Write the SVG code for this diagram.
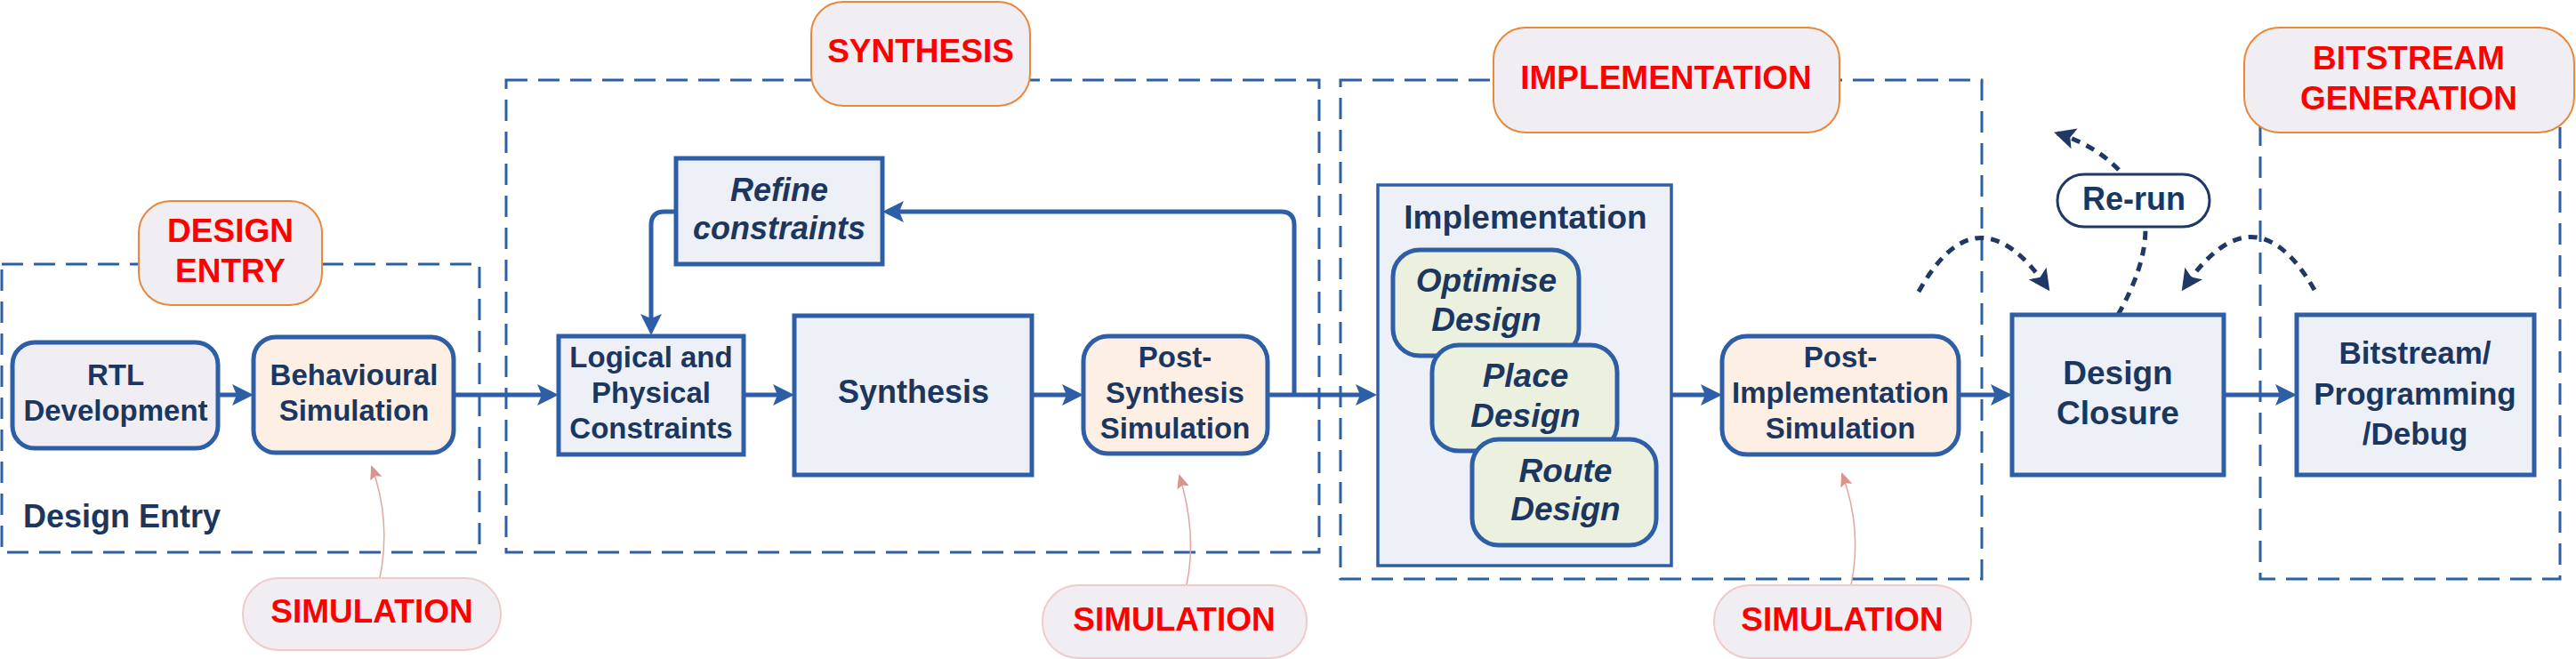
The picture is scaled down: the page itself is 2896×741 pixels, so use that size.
<svg xmlns="http://www.w3.org/2000/svg" width="2896" height="741" viewBox="0 0 2896 741">
<defs>
<style>
.dash{fill:none;stroke:#2E5FA6;stroke-width:3;stroke-dasharray:24 12}
.lbl{fill:#F0EEF3;stroke:#E8883A;stroke-width:2}
.sim{fill:#F0EEF3;stroke:#F2CACA;stroke-width:2}
.red{font-family:"Liberation Sans",Arial,sans-serif;font-weight:bold;font-size:37px;fill:#FF0000;text-anchor:middle}
.box{stroke:#2E5FA6;stroke-width:5}
.lav{fill:#F0EEF3}
.pale{fill:#EDF1F7}
.peach{fill:#FDEFE4}
.green{fill:#EBF0DF}
.t{font-family:"Liberation Sans",Arial,sans-serif;font-weight:bold;font-size:33px;fill:#1B365F;text-anchor:middle}
.t36{font-size:36px}
.t37{font-size:37px}
.it{font-style:italic}
.conn{fill:none;stroke:#2E5FA6;stroke-width:5}
.pink{fill:none;stroke:#E3A59F;stroke-width:1.5}
.dot{fill:none;stroke:#1F3864;stroke-width:5;stroke-dasharray:10 8}
</style>
<marker id="ab" viewBox="0 0 24 24" refX="14" refY="12" markerWidth="24" markerHeight="24" markerUnits="userSpaceOnUse" orient="auto">
<path d="M0,0 L24,12 L0,24 L5,12 z" fill="#2E5FA6"/>
</marker>
<marker id="ap" viewBox="0 0 16 14" refX="14" refY="7" markerWidth="16" markerHeight="14" markerUnits="userSpaceOnUse" orient="auto">
<path d="M0,0 L16,7 L0,14 L3,7 z" fill="#D9948E"/>
</marker>
<marker id="an" viewBox="0 0 24 24" refX="20" refY="12" markerWidth="24" markerHeight="24" markerUnits="userSpaceOnUse" orient="auto">
<path d="M0,0 L24,12 L0,24 L5,12 z" fill="#1F3864"/>
</marker>
</defs>
<rect width="2896" height="741" fill="#FFFFFF"/>

<g id="stages">
<rect class="dash" x="2" y="297" width="537" height="324"/>
<rect class="dash" x="569" y="90" width="914" height="531"/>
<rect class="dash" x="1507" y="90" width="721" height="561"/>
<rect class="dash" x="2541" y="120" width="337" height="531"/>
</g>

<g id="connectors">
<path class="conn" d="M245,444 H275" marker-end="url(#ab)"/>
<path class="conn" d="M510,444 H618" marker-end="url(#ab)"/>
<path class="conn" d="M836,444 H883" marker-end="url(#ab)"/>
<path class="conn" d="M1160,444 H1208" marker-end="url(#ab)"/>
<path class="conn" d="M1425,444 H1538" marker-end="url(#ab)"/>
<path class="conn" d="M1455,444 V253 Q1455,238 1440,238 H1002" marker-end="url(#ab)"/>
<path class="conn" d="M760,238 H747 Q732,238 732,253 V367" marker-end="url(#ab)"/>
<path class="conn" d="M1879,444 H1926" marker-end="url(#ab)"/>
<path class="conn" d="M2202,444 H2252" marker-end="url(#ab)"/>
<path class="conn" d="M2500,444 H2572" marker-end="url(#ab)"/>
<path class="pink" d="M427,650 Q440,585 418,525" marker-end="url(#ap)"/>
<path class="pink" d="M1334,658 Q1346,600 1326,535" marker-end="url(#ap)"/>
<path class="pink" d="M2081,658 Q2094,595 2071,533" marker-end="url(#ap)"/>
<path class="dot" d="M2157,328 Q2223,209 2302,324" marker-end="url(#an)"/>
<path class="dot" d="M2602,326 Q2534,208 2455,324" marker-end="url(#an)"/>
<path class="dot" d="M2381,354 Q2412,300 2412,257"/>
<path class="dot" d="M2382,191 Q2355,163 2313,150" marker-end="url(#an)"/>
</g>

<g id="label-design-entry">
<rect class="lbl" x="156" y="226" width="206" height="117" rx="36"/>
<text class="red" x="259" y="272">DESIGN</text>
<text class="red" x="259" y="317">ENTRY</text>
</g>
<g id="label-synthesis">
<rect class="lbl" x="912" y="2" width="246" height="117" rx="36"/>
<text class="red" x="1035" y="70">SYNTHESIS</text>
</g>
<g id="label-implementation">
<rect class="lbl" x="1679" y="31" width="389" height="118" rx="36"/>
<text class="red" x="1873" y="100">IMPLEMENTATION</text>
</g>
<g id="label-bitstream">
<rect class="lbl" x="2523" y="31" width="371" height="118" rx="40"/>
<text class="red" x="2708" y="78">BITSTREAM</text>
<text class="red" x="2708" y="123">GENERATION</text>
</g>

<g id="design-entry-title">
<text class="t t36" x="26" y="593" style="text-anchor:start">Design Entry</text>
</g>

<g id="rtl">
<rect class="box lav" x="14" y="385" width="231" height="119" rx="25"/>
<text class="t" x="130" y="433">RTL</text>
<text class="t" x="130" y="473">Development</text>
</g>
<g id="behavioural">
<rect class="box peach" x="285" y="379" width="225" height="130" rx="25"/>
<text class="t" x="398" y="433">Behavioural</text>
<text class="t" x="398" y="473">Simulation</text>
</g>
<g id="refine">
<rect class="box pale" x="760" y="178" width="232" height="119"/>
<text class="t t36 it" x="876" y="226">Refine</text>
<text class="t t36 it" x="876" y="269">constraints</text>
</g>
<g id="logical">
<rect class="box pale" x="628" y="378" width="208" height="133"/>
<text class="t" x="732" y="413">Logical and</text>
<text class="t" x="732" y="453">Physical</text>
<text class="t" x="732" y="493">Constraints</text>
</g>
<g id="synthesis">
<rect class="box pale" x="893" y="355" width="267" height="179"/>
<text class="t t36" x="1027" y="453">Synthesis</text>
</g>
<g id="post-synthesis">
<rect class="box peach" x="1218" y="378" width="207" height="132" rx="28"/>
<text class="t" x="1321" y="413">Post-</text>
<text class="t" x="1321" y="453">Synthesis</text>
<text class="t" x="1321" y="493">Simulation</text>
</g>
<g id="implementation">
<rect class="pale" x="1549" y="208" width="330" height="428" stroke="#2E5FA6" stroke-width="3.5"/>
<text class="t t37" x="1715" y="257">Implementation</text>
</g>
<g id="optimise">
<rect class="box green" x="1566" y="281" width="209" height="119" rx="30"/>
<text class="t t37 it" x="1671" y="328">Optimise</text>
<text class="t t37 it" x="1671" y="372">Design</text>
</g>
<g id="place">
<rect class="box green" x="1610" y="388" width="208" height="119" rx="30"/>
<text class="t t37 it" x="1715" y="435">Place</text>
<text class="t t37 it" x="1715" y="480">Design</text>
</g>
<g id="route">
<rect class="box green" x="1655" y="494" width="207" height="119" rx="30"/>
<text class="t t37 it" x="1760" y="542">Route</text>
<text class="t t37 it" x="1760" y="585">Design</text>
</g>
<g id="post-implementation">
<rect class="box peach" x="1936" y="378" width="266" height="133" rx="28"/>
<text class="t" x="2069" y="413">Post-</text>
<text class="t" x="2069" y="453">Implementation</text>
<text class="t" x="2069" y="493">Simulation</text>
</g>
<g id="design-closure">
<rect class="box pale" x="2262" y="354" width="238" height="180"/>
<text class="t t37" x="2381" y="432">Design</text>
<text class="t t37" x="2381" y="477">Closure</text>
</g>
<g id="bitstream">
<rect class="box pale" x="2582" y="354" width="267" height="180"/>
<text class="t" x="2715" y="409" style="font-size:35px">Bitstream/</text>
<text class="t" x="2715" y="455" style="font-size:35px">Programming</text>
<text class="t" x="2715" y="500" style="font-size:35px">/Debug</text>
</g>
<g id="rerun">
<rect x="2313" y="196" width="171" height="59" rx="30" fill="#FFFFFF" stroke="#1F3864" stroke-width="3"/>
<text class="t t36" x="2399" y="236">Re-run</text>
</g>
<g id="sim1">
<rect class="sim" x="273" y="650" width="290" height="81" rx="40"/>
<text class="red" x="418" y="700">SIMULATION</text>
</g>
<g id="sim2">
<rect class="sim" x="1172" y="658" width="297" height="82" rx="40"/>
<text class="red" x="1320" y="709">SIMULATION</text>
</g>
<g id="sim3">
<rect class="sim" x="1927" y="658" width="289" height="82" rx="40"/>
<text class="red" x="2071" y="709">SIMULATION</text>
</g>
</svg>
